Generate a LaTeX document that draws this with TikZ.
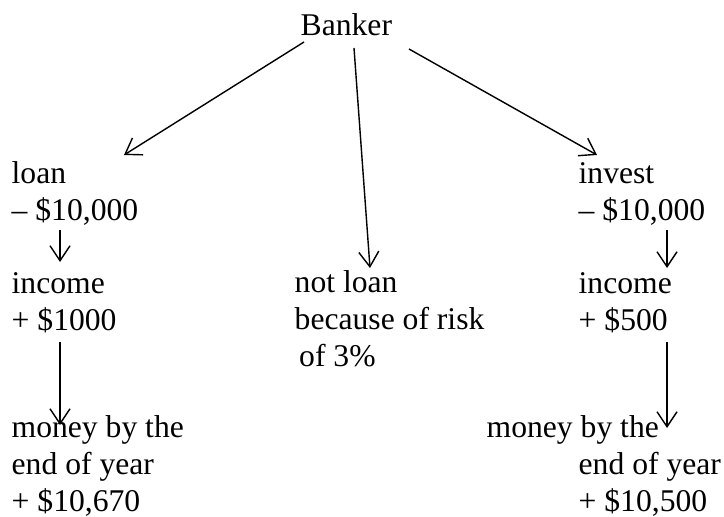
\documentclass[tikz,border=0pt]{standalone}
\usepackage{fontspec}
\setmainfont{Liberation Serif}
\usetikzlibrary{arrows.meta}

\begin{document}
\begin{tikzpicture}[x=0.02cm,y=-0.02cm]
    \tikzset{
      item/.style={anchor=base west,inner sep=0pt,align=left,
        font=\fontsize{18}{20.8}\selectfont},
      >={Straight Barb[length=0.3cm,width=0.4cm]},
      every path/.style={line width=0.8pt}
    }
    \useasboundingbox (0,0) rectangle (724,517);

    % nodes sit on the baseline of their last line
    \node[item] (banker) at (300,36) {Banker};
    \node[item] (loan) at (11,220) {loan\\– \$10,000};
    \node[item] (loaninc) at (11,330) {income\\+ \$1000};
    \node[item] (loanend) at (11,511) {money by the\\end of year\\+ \$10,670};
    \node[item] (noloan) at (294,366) {not loan\\because of risk\\\hspace*{0.09cm}of 3\%};
    \node[item] (invest) at (578,220) {invest\\– \$10,000};
    \node[item] (investinc) at (578,330) {income\\+ \$500};
    \node[item] (investend) at (486,511)
      {money by the\\\hspace*{1.84cm}end of year\\\hspace*{1.84cm}+ \$10,500};

    \path[->] ([shift={(4,6)}]banker.base west) edge ([shift={(113,-65)}]loan.base west);
    \path[->] ([shift={(54,12)}]banker.base west) edge ([shift={(76,-98)}]noloan.base west);
    \path[->] ([shift={(109,13)}]banker.base west) edge ([shift={(19,-65)}]invest.base west);
    \path[->] ([shift={(49,10)}]loan.base west) edge ([shift={(49,-68)}]loaninc.base west);
    \path[->] ([shift={(49,12)}]loaninc.base west) edge ([shift={(49,-86)}]loanend.base west);
    \path[->] ([shift={(89,10)}]invest.base west) edge ([shift={(89,-62)}]investinc.base west);
    \path[->] ([shift={(89,12)}]investinc.base west) edge ([shift={(181,-83)}]investend.base west);
  \end{tikzpicture}
\end{document}
